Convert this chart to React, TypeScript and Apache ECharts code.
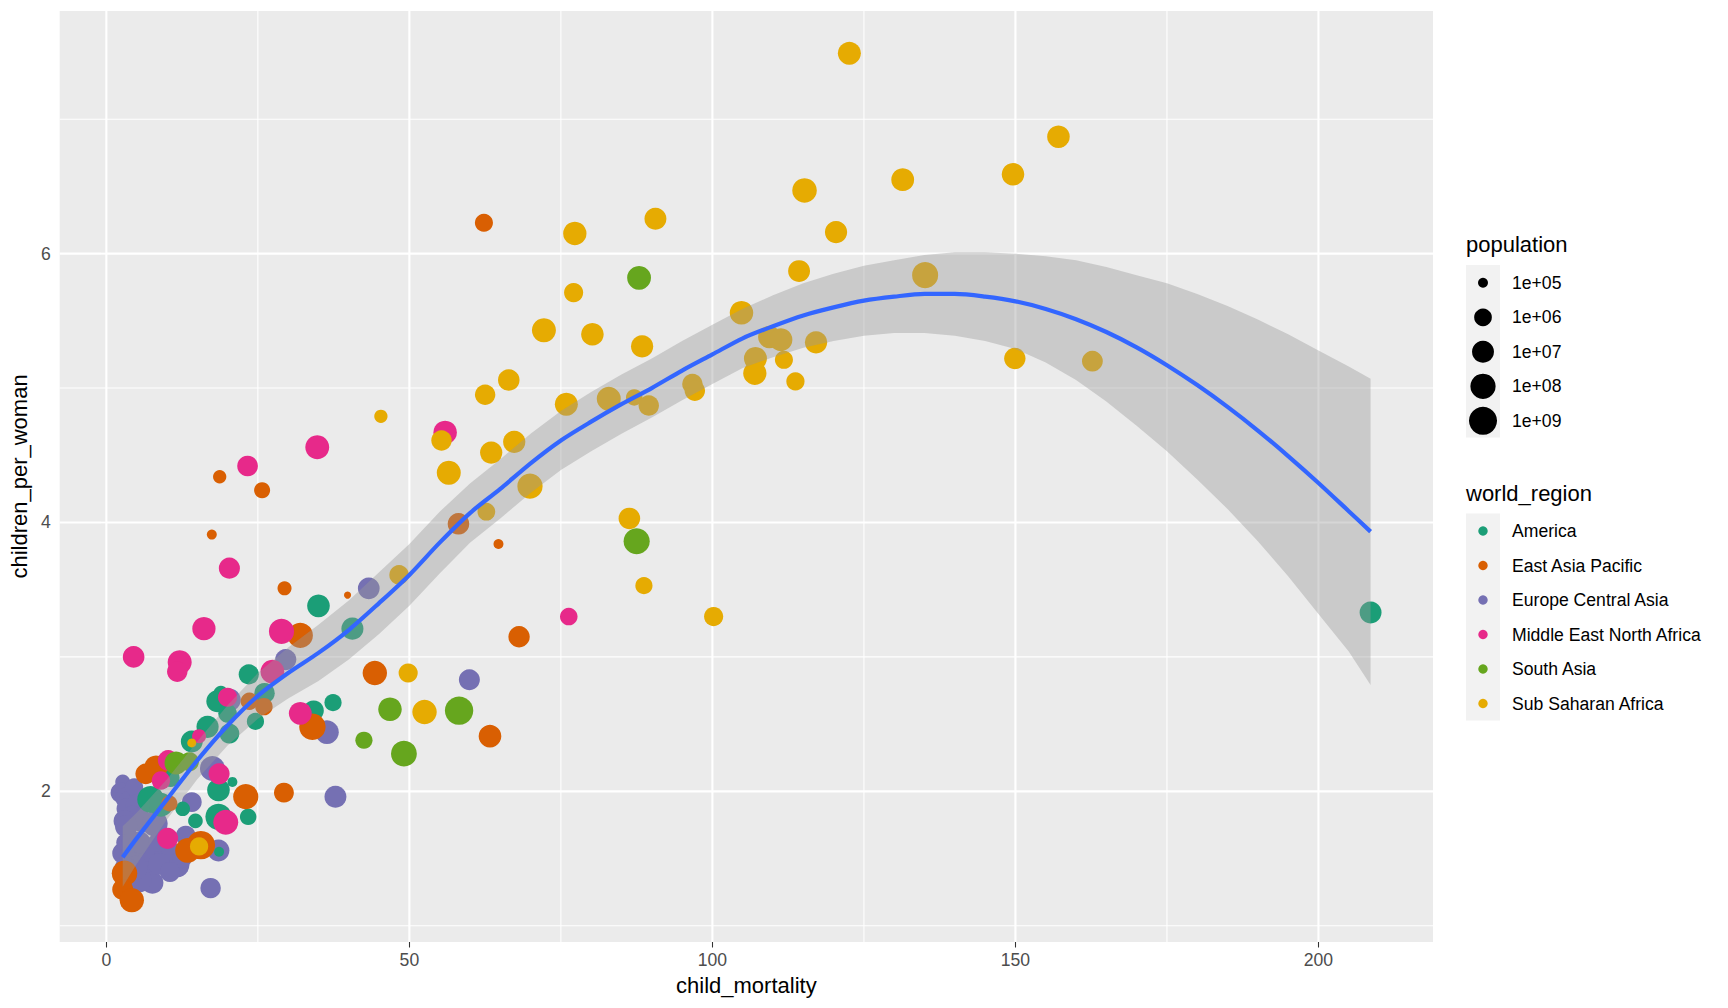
import React, { useEffect, useRef } from 'react';
import * as echarts from 'echarts';

const FONT = '"Liberation Sans", Arial, Helvetica, sans-serif';

// world regions and Dark2 colours
const regionNames = ['America', 'East Asia Pacific', 'Europe Central Asia', 'Middle East North Africa', 'South Asia', 'Sub Saharan Africa'];
const regionColors = ['#1B9E77', '#D95F02', '#7570B3', '#E7298A', '#66A61E', '#E6AB02'];

// [child_mortality, children_per_woman, population]
const america: number[][] = [
  [35.0, 3.38, 1.6e7], [40.6, 3.21, 1.1e7], [23.5, 2.87, 3.5e6], [26.1, 2.73, 4e6], [24.6, 2.52, 8e5],
  [18.3, 2.67, 1e7], [18.9, 2.73, 3e5], [20.0, 2.58, 1.5e6], [16.7, 2.48, 1.2e7], [14.1, 2.37, 1e7],
  [20.3, 2.43, 3e6], [34.2, 2.60, 4e6], [37.4, 2.66, 8e5], [10.6, 2.10, 1.2e6], [20.8, 2.07, 1e5],
  [18.5, 2.01, 1.6e7], [12.6, 1.87, 3e5], [14.7, 1.78, 3e5], [18.5, 1.81, 2.1e8], [23.4, 1.81, 6e5],
  [7.3, 1.94, 3.2e8], [9.0, 1.90, 3.6e7], [18.6, 1.55, 1e5], [208.6, 3.33, 1e7],
];
const eastAsiaPacific: number[][] = [
  [62.3, 6.23, 1.2e6], [58.1, 3.99, 8e6], [64.7, 3.84, 1e5], [18.7, 4.34, 2e5], [25.7, 4.24, 5e5],
  [17.4, 3.91, 1e5], [29.4, 3.51, 2.5e5], [39.8, 3.46, 8e4], [32.0, 3.16, 1e8], [23.6, 2.67, 9e5],
  [26.0, 2.63, 9e5], [34.0, 2.48, 2.6e8], [68.1, 3.15, 7e6], [44.3, 2.88, 5.3e7], [63.3, 2.41, 1.6e7],
  [23.0, 1.96, 9.5e7], [29.3, 1.99, 3e6], [6.5, 2.13, 4.7e6], [8.2, 2.18, 2.4e7], [10.4, 1.91, 5e5],
  [15.6, 1.60, 1.4e9], [13.4, 1.56, 6.9e7], [3.0, 1.39, 1.27e8], [2.7, 1.27, 5.6e6], [4.2, 1.19, 5.1e7],
];
const europeCentralAsia: number[][] = [
  [43.3, 3.51, 9e6], [59.9, 2.83, 5.7e6], [29.6, 2.98, 6e6], [20.3, 2.68, 1.8e7], [36.4, 2.44, 3.2e7],
  [37.8, 1.96, 9.8e6], [17.5, 2.17, 8e7], [17.2, 1.28, 4e6], [14.1, 1.92, 2.9e6], [2.7, 2.07, 3.3e5],
  [2.4, 1.99, 4.7e6], [3.2, 1.95, 5.3e6], [4.0, 1.92, 6.5e7], [3.4, 1.87, 5.2e6], [4.6, 2.03, 1.1e6],
  [5.2, 1.89, 6.6e7], [4.3, 1.81, 1.1e7], [6.0, 1.77, 5.7e6], [3.0, 1.78, 9.9e6], [8.0, 1.76, 1.44e8],
  [3.3, 1.74, 1.7e7], [3.8, 1.59, 8.5e6], [4.6, 1.53, 1.06e7], [2.7, 1.54, 5.5e6], [3.0, 1.62, 6e5],
  [4.3, 1.62, 8.4e6], [6.8, 1.46, 4.2e6], [7.6, 1.59, 1.9e6], [9.8, 1.59, 7e6], [10.9, 1.54, 3.5e6],
  [11.7, 1.45, 4.4e7], [13.1, 1.67, 2.9e6], [18.5, 1.56, 9.5e6], [7.1, 1.55, 1.97e7], [9.7, 1.54, 8.8e6],
  [6.5, 1.39, 3.8e7], [7.6, 1.32, 1.03e7], [5.4, 1.34, 8.2e7], [3.8, 1.46, 6e7], [8.7, 1.46, 9.8e6],
  [12.5, 1.50, 2.1e6], [5.5, 1.62, 1e7], [8.5, 1.62, 2e6], [10.5, 1.40, 3.5e6], [4.8, 1.43, 4.6e7],
  [3.2, 1.43, 1.03e7],
];
const middleEastNorthAfrica: number[][] = [
  [55.9, 4.67, 2.8e7], [34.8, 4.56, 3.8e7], [23.3, 4.42, 4.7e6], [20.3, 3.66, 6e6], [16.1, 3.21, 2.4e7],
  [4.5, 3.00, 8.5e6], [12.1, 2.96, 4.1e7], [11.7, 2.89, 4e6], [28.9, 3.19, 9.7e7], [27.4, 2.89, 3.5e7],
  [15.3, 2.41, 2.5e5], [32.0, 2.58, 1.8e7], [76.3, 3.30, 9.5e5], [10.2, 2.23, 4.5e6], [9.0, 2.08, 1.4e6],
  [18.6, 2.13, 6e6], [19.7, 1.77, 8e7], [10.1, 1.65, 6e6], [20.0, 2.70, 2e6],
];
const southAsia: number[][] = [
  [87.9, 5.82, 3.6e7], [87.5, 3.86, 2e8], [46.8, 2.61, 2.9e7], [58.2, 2.60, 1.34e9],
  [42.5, 2.38, 8e5], [49.1, 2.28, 1.6e8], [11.5, 2.21, 2.1e7], [13.7, 2.22, 2e6],
];
const subSaharanAfrica: number[][] = [
  [122.6, 7.49, 2e7], [157.1, 6.87, 1.5e7], [149.6, 6.59, 1.5e7], [131.4, 6.55, 1.8e7], [115.2, 6.47, 6e7],
  [120.4, 6.16, 1.2e7], [114.3, 5.87, 1e7], [135.1, 5.84, 1.9e8], [104.8, 5.56, 2.8e7], [109.4, 5.38, 1.5e7],
  [111.3, 5.36, 2e7], [117.1, 5.34, 1.2e7], [107.1, 5.22, 2e7], [111.8, 5.21, 1.2e6], [107.0, 5.11, 2.5e7],
  [113.7, 5.05, 1.3e6], [149.9, 5.22, 7e6], [162.7, 5.20, 5e6], [77.3, 6.15, 2.5e7], [90.6, 6.26, 1e7],
  [77.1, 5.71, 2e6], [72.2, 5.43, 4e7], [80.2, 5.40, 1.5e7], [88.4, 5.31, 1.2e7], [66.4, 5.06, 8e6],
  [62.5, 4.95, 4e6], [75.9, 4.88, 2e7], [82.9, 4.92, 4e7], [87.1, 4.93, 6e5], [89.5, 4.87, 4e6],
  [96.7, 5.03, 4e6], [97.1, 4.98, 4e6], [45.3, 4.79, 2e5], [55.3, 4.61, 4e6], [67.3, 4.60, 1.2e7],
  [63.5, 4.52, 1.2e7], [56.5, 4.37, 4e7], [69.9, 4.27, 1e8], [62.7, 4.08, 1e6], [86.3, 4.03, 8e6],
  [88.7, 3.53, 8e5], [48.3, 3.61, 2.5e6], [100.2, 3.30, 2e6], [49.8, 2.88, 2e6], [52.5, 2.59, 5.5e7],
  [15.3, 1.59, 1.3e6], [14.1, 2.36, 9e4],
];

// loess smooth and its confidence band
const smoothX = [2.7, 5, 10, 15, 20, 25, 30, 35, 40, 45, 50, 55, 60, 65, 70, 75, 80, 85, 90, 95, 100, 105, 110, 115, 120, 125, 130, 135, 140, 145, 150, 155, 160, 165, 170, 175, 180, 185, 190, 195, 200, 205, 208.6];
const smoothFit = [1.51, 1.65, 1.94, 2.23, 2.49, 2.71, 2.88, 3.03, 3.20, 3.40, 3.61, 3.85, 4.07, 4.25, 4.44, 4.61, 4.75, 4.88, 5.00, 5.13, 5.25, 5.37, 5.46, 5.54, 5.60, 5.65, 5.68, 5.70, 5.70, 5.68, 5.645, 5.588, 5.512, 5.417, 5.303, 5.17, 5.022, 4.86, 4.684, 4.494, 4.294, 4.084, 3.932];
const smoothLower = [1.29, 1.46, 1.79, 2.09, 2.34, 2.54, 2.69, 2.82, 2.98, 3.17, 3.38, 3.62, 3.85, 4.03, 4.22, 4.39, 4.53, 4.66, 4.78, 4.91, 5.03, 5.15, 5.23, 5.30, 5.35, 5.39, 5.41, 5.41, 5.39, 5.35, 5.29, 5.19, 5.06, 4.90, 4.72, 4.53, 4.32, 4.10, 3.86, 3.60, 3.32, 3.04, 2.79];
const smoothUpper = [1.74, 1.84, 2.09, 2.37, 2.64, 2.88, 3.07, 3.24, 3.42, 3.63, 3.84, 4.08, 4.29, 4.47, 4.66, 4.83, 4.97, 5.10, 5.22, 5.35, 5.47, 5.59, 5.69, 5.78, 5.85, 5.91, 5.95, 5.99, 6.01, 6.01, 6.00, 5.98, 5.95, 5.90, 5.84, 5.78, 5.70, 5.61, 5.51, 5.40, 5.28, 5.16, 5.07];

// axes
const xMajor = [0, 50, 100, 150, 200];
const xMinor = [25, 75, 125, 175];
const yMajor = [2, 4, 6];
const yMinor = [1, 3, 5, 7];
const X_MIN = -7.7, X_MAX = 218.9, Y_MIN = 0.879, Y_MAX = 7.805;

// population size legend
const popBreaks = [1e5, 1e6, 1e7, 1e8, 1e9];
const popLabels = ['1e+05', '1e+06', '1e+07', '1e+08', '1e+09'];
const POP_LOG_MIN = 4.9, POP_LOG_MAX = 9.14;

function sizeFor(pop: number): number {
  const t = Math.max(0, Math.min(1, (Math.log10(pop) - POP_LOG_MIN) / (POP_LOG_MAX - POP_LOG_MIN)));
  return 6.6 + 21.8 * Math.sqrt(t);
}

const drawOrder = [
  { name: regionNames[2], data: europeCentralAsia, color: regionColors[2] },
  { name: regionNames[0], data: america, color: regionColors[0] },
  { name: regionNames[1], data: eastAsiaPacific, color: regionColors[1] },
  { name: regionNames[3], data: middleEastNorthAfrica, color: regionColors[3] },
  { name: regionNames[4], data: southAsia, color: regionColors[4] },
  { name: regionNames[5], data: subSaharanAfrica, color: regionColors[5] },
];

export default function App() {
  const ref = useRef<HTMLDivElement>(null);
  useEffect(() => {
    if (!ref.current) return;
    const chart = echarts.init(ref.current, undefined, { renderer: 'svg' });

    const gridSeries: any = {
      type: 'custom',
      coordinateSystem: 'cartesian2d',
      silent: true,
      z: 1,
      data: [[0, 0]],
      renderItem: (_p: any, api: any) => {
        const children: any[] = [];
        const vline = (v: number, w: number) => {
          const a = api.coord([v, Y_MIN]);
          const b = api.coord([v, Y_MAX]);
          children.push({ type: 'line', shape: { x1: a[0], y1: a[1], x2: b[0], y2: b[1] }, style: { stroke: '#FFFFFF', lineWidth: w } });
        };
        const hline = (v: number, w: number) => {
          const a = api.coord([X_MIN, v]);
          const b = api.coord([X_MAX, v]);
          children.push({ type: 'line', shape: { x1: a[0], y1: a[1], x2: b[0], y2: b[1] }, style: { stroke: '#FFFFFF', lineWidth: w } });
        };
        xMinor.forEach((v) => vline(v, 1.07));
        yMinor.forEach((v) => hline(v, 1.07));
        xMajor.forEach((v) => vline(v, 2.13));
        yMajor.forEach((v) => hline(v, 2.13));
        return { type: 'group', children };
      },
    };

    const ribbonSeries: any = {
      type: 'custom',
      coordinateSystem: 'cartesian2d',
      silent: true,
      z: 3,
      data: [[0, 0]],
      renderItem: (_p: any, api: any) => {
        const pts: number[][] = [];
        for (let i = 0; i < smoothX.length; i++) pts.push(api.coord([smoothX[i], smoothUpper[i]]));
        for (let i = smoothX.length - 1; i >= 0; i--) pts.push(api.coord([smoothX[i], smoothLower[i]]));
        return { type: 'polygon', shape: { points: pts }, style: { fill: 'rgba(153,153,153,0.4)', stroke: 'none' } };
      },
    };

    const scatterSeries = drawOrder.map((r) => ({
      type: 'scatter',
      name: r.name,
      data: r.data,
      z: 2,
      symbol: 'circle',
      symbolSize: (v: number[]) => sizeFor(v[2]),
      itemStyle: { color: r.color, opacity: 1 },
      emphasis: { disabled: true },
    }));

    const lineSeries: any = {
      type: 'line',
      z: 4,
      data: smoothX.map((x, i) => [x, smoothFit[i]]),
      showSymbol: false,
      symbol: 'none',
      smooth: 0.3,
      lineStyle: { color: '#3366FF', width: 4.2 },
      silent: true,
    };

    const graphics: any[] = [];
    const LX = 1466;
    graphics.push({ type: 'text', x: LX, y: 244, style: { text: 'population', fontSize: 22, fontFamily: FONT, fill: '#000', textVerticalAlign: 'middle' } });
    graphics.push({ type: 'rect', shape: { x: LX, y: 265, width: 34, height: 172.5 }, style: { fill: '#F2F2F2' } });
    popBreaks.forEach((p, i) => {
      const cy = 282.8 + i * 34.5;
      graphics.push({ type: 'circle', shape: { cx: LX + 17, cy, r: sizeFor(p) / 2 }, style: { fill: '#000' } });
      graphics.push({ type: 'text', x: 1512, y: cy, style: { text: popLabels[i], fontSize: 17.6, fontFamily: FONT, fill: '#000', textVerticalAlign: 'middle' } });
    });
    graphics.push({ type: 'text', x: LX, y: 493, style: { text: 'world_region', fontSize: 22, fontFamily: FONT, fill: '#000', textVerticalAlign: 'middle' } });
    graphics.push({ type: 'rect', shape: { x: LX, y: 513.5, width: 34, height: 207 }, style: { fill: '#F2F2F2' } });
    regionNames.forEach((n, i) => {
      const cy = 531 + i * 34.5;
      graphics.push({ type: 'circle', shape: { cx: LX + 17, cy, r: 4.7 }, style: { fill: regionColors[i] } });
      graphics.push({ type: 'text', x: 1512, y: cy, style: { text: n, fontSize: 17.6, fontFamily: FONT, fill: '#000', textVerticalAlign: 'middle' } });
    });

    chart.setOption({
      animation: false,
      backgroundColor: '#FFFFFF',
      textStyle: { fontFamily: FONT },
      grid: { left: 57, top: 11, width: 1376, height: 931, show: true, backgroundColor: '#EBEBEB', borderWidth: 0, containLabel: false },
      xAxis: {
        type: 'value',
        min: X_MIN,
        max: X_MAX,
        name: 'child_mortality',
        nameLocation: 'middle',
        nameGap: 32,
        nameTextStyle: { fontSize: 22, color: '#000', fontFamily: FONT },
        axisLine: { show: false },
        splitLine: { show: false },
        axisTick: { show: true, length: 5.5, lineStyle: { color: '#333333', width: 1.07 }, customValues: xMajor },
        axisLabel: { customValues: xMajor, color: '#4D4D4D', fontSize: 17.6, fontFamily: FONT, margin: 9 },
      },
      yAxis: {
        type: 'value',
        min: Y_MIN,
        max: Y_MAX,
        name: 'children_per_woman',
        nameLocation: 'middle',
        nameGap: 27,
        nameRotate: 90,
        nameTextStyle: { fontSize: 22, color: '#000', fontFamily: FONT },
        axisLine: { show: false },
        splitLine: { show: false },
        axisTick: { show: true, length: 5.5, lineStyle: { color: '#333333', width: 1.07 }, customValues: yMajor },
        axisLabel: { customValues: yMajor, color: '#4D4D4D', fontSize: 17.6, fontFamily: FONT, margin: 9 },
      },
      graphic: graphics,
      series: [gridSeries, ...scatterSeries, ribbonSeries, lineSeries],
    });

    return () => chart.dispose();
  }, []);

  return <div ref={ref} style={{ position: 'fixed', left: 0, top: 0, width: 1728, height: 1008, background: '#fff' }} />;
}
